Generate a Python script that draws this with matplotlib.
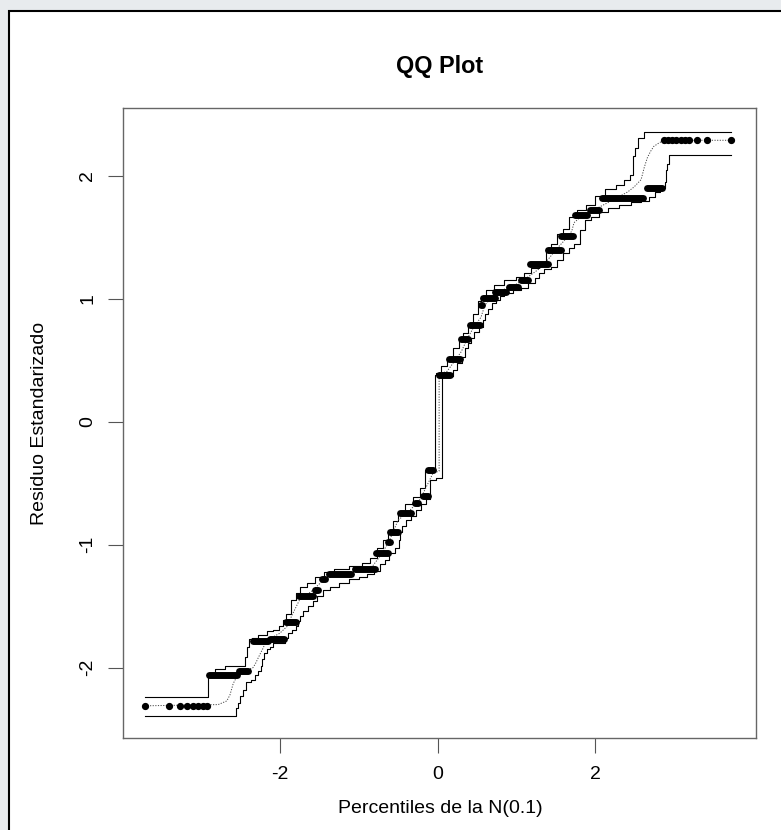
import matplotlib
matplotlib.use("Agg")
import matplotlib.pyplot as plt
from matplotlib.patches import Rectangle

plt.rcParams['font.family'] = ['Liberation Sans', 'DejaVu Sans']
plt.rcParams['axes.unicode_minus'] = False

# isolated points in the two tails
tail_lo_x = [-3.71, -3.40, -3.26, -3.17, -3.10, -3.04, -2.97, -2.92]
tail_lo_y = -2.31
tail_hi_x = [2.87, 2.92, 2.97, 3.02, 3.08, 3.13, 3.19, 3.29, 3.42, 3.72]
tail_hi_y = 2.29

# runs of tied residuals: level, first and last theoretical quantile
run_y = [-2.06, -2.03, -1.78, -1.77, -1.63, -1.42, -1.37, -1.28, -1.24, -1.20,
         -1.07, -0.98, -0.90, -0.74, -0.66, -0.60, -0.39, 0.38, 0.51, 0.675,
         0.79, 0.95, 1.01, 1.06, 1.10, 1.15, 1.28, 1.40, 1.51, 1.68, 1.72,
         1.82, 1.905]
run_x0 = [-2.89, -2.51, -2.34, -2.12, -1.92, -1.76, -1.55, -1.46, -1.37, -1.04,
          -0.78, -0.63, -0.60, -0.47, -0.29, -0.19, -0.12, 0.02, 0.15, 0.30,
          0.41, 0.55, 0.58, 0.73, 0.91, 1.06, 1.17, 1.40, 1.57, 1.74, 1.93,
          2.08, 2.65]
run_x1 = [-2.54, -2.40, -2.15, -1.95, -1.79, -1.58, -1.51, -1.43, -1.10, -0.79,
          -0.63, -0.60, -0.50, -0.33, -0.25, -0.12, -0.06, 0.16, 0.28, 0.39,
          0.54, 0.56, 0.73, 0.87, 1.02, 1.15, 1.40, 1.56, 1.72, 1.89, 2.04,
          2.61, 2.84]

# simulated envelope (upper, lower) and its median
upper_x = [-3.71, -2.93, -2.88, -2.76, -2.63, -2.46, -2.43, -2.40, -2.37, -2.33,
           -2.21, -2.12, -2.04, -1.97, -1.95, -1.89, -1.82, -1.78, -1.70, -1.61,
           -1.49, -1.40, -1.23, -1.02, -0.89, -0.81, -0.72, -0.66, -0.60, -0.53,
           -0.47, -0.36, -0.26, -0.18, -0.15, -0.03, -0.03, -0.01, 0.10, 0.14,
           0.25, 0.29, 0.36, 0.40, 0.50, 0.52, 0.57, 0.67, 0.76, 0.93, 1.05,
           1.14, 1.22, 1.35, 1.39, 1.48, 1.54, 1.63, 1.71, 1.82, 1.94, 2.05,
           2.20, 2.32, 2.41, 2.47, 2.49, 2.51, 2.58, 2.66, 3.72]
upper_y = [-2.24, -2.24, -2.06, -2.01, -1.99, -1.99, -1.91, -1.83, -1.77, -1.76,
           -1.73, -1.70, -1.69, -1.66, -1.61, -1.56, -1.45, -1.39, -1.34, -1.31,
           -1.26, -1.22, -1.20, -1.17, -1.15, -1.11, -1.03, -0.96, -0.89, -0.81,
           -0.74, -0.67, -0.61, -0.54, -0.39, -0.39, 0.38, 0.40, 0.45, 0.52,
           0.60, 0.67, 0.72, 0.79, 0.88, 0.98, 1.02, 1.07, 1.11, 1.15, 1.18,
           1.21, 1.25, 1.29, 1.41, 1.45, 1.53, 1.57, 1.67, 1.72, 1.76, 1.84,
           1.89, 1.93, 1.97, 2.01, 2.16, 2.23, 2.31, 2.36, 2.36]

lower_x = [-3.71, -2.57, -2.54, -2.52, -2.48, -2.46, -2.40, -2.33, -2.29, -2.25,
           -2.23, -2.21, -2.18, -2.14, -2.10, -2.06, -1.95, -1.91, -1.87, -1.82,
           -1.78, -1.76, -1.72, -1.68, -1.61, -1.55, -1.51, -1.40, -1.32, -1.19,
           -1.06, -0.94, -0.85, -0.75, -0.70, -0.64, -0.58, -0.51, -0.47, -0.47,
           -0.43, -0.38, -0.30, -0.24, -0.17, -0.11, -0.09, -0.09, 0.06, 0.06,
           0.19, 0.21, 0.29, 0.33, 0.36, 0.40, 0.44, 0.48, 0.57, 0.59, 0.61,
           0.67, 0.71, 0.78, 0.80, 0.89, 1.01, 1.10, 1.20, 1.27, 1.31, 1.39,
           1.48, 1.56, 1.63, 1.69, 1.77, 1.84, 1.90, 1.98, 2.11, 2.22, 2.37,
           2.54, 2.62, 2.73, 2.77, 2.87, 2.90, 2.90, 2.92, 2.94, 3.72]
lower_y = [-2.39, -2.39, -2.33, -2.29, -2.23, -2.18, -2.12, -2.10, -2.06, -2.03,
           -1.99, -1.93, -1.88, -1.85, -1.83, -1.80, -1.80, -1.76, -1.72, -1.69,
           -1.66, -1.62, -1.58, -1.54, -1.50, -1.46, -1.42, -1.37, -1.34, -1.31,
           -1.28, -1.26, -1.24, -1.21, -1.16, -1.12, -1.07, -1.03, -0.96, -0.90,
           -0.85, -0.80, -0.77, -0.72, -0.67, -0.63, -0.58, -0.47, -0.46, 0.37,
           0.37, 0.42, 0.48, 0.53, 0.60, 0.64, 0.68, 0.73, 0.77, 0.83, 0.88,
           0.92, 0.97, 0.99, 1.02, 1.05, 1.07, 1.09, 1.13, 1.17, 1.21, 1.24,
           1.26, 1.32, 1.37, 1.41, 1.45, 1.56, 1.64, 1.67, 1.71, 1.74, 1.76,
           1.79, 1.80, 1.83, 1.87, 1.90, 1.95, 2.05, 2.10, 2.17, 2.17]

mid_x = [-3.71, -2.78, -2.67, -2.63, -2.59, -2.55, -2.51, -2.42, -2.34, -2.31,
         -2.25, -2.21, -2.17, -2.00, -1.90, -1.85, -1.75, -1.60, -1.45, -1.30,
         -1.00, -0.82, -0.70, -0.60, -0.50, -0.35, -0.22, -0.12, -0.06, 0.02,
         0.02, 0.12, 0.20, 0.30, 0.38, 0.45, 0.55, 0.60, 0.70, 0.85, 1.00,
         1.15, 1.30, 1.40, 1.50, 1.60, 1.70, 1.73, 1.82, 1.94, 2.09, 2.24,
         2.41, 2.49, 2.58, 2.60, 2.62, 2.66, 2.70, 2.74, 2.81, 2.87, 3.72]
mid_y = [-2.31, -2.30, -2.27, -2.22, -2.13, -2.08, -2.03, -2.02, -2.00, -1.97,
         -1.89, -1.84, -1.78, -1.72, -1.66, -1.58, -1.45, -1.38, -1.29, -1.25,
         -1.21, -1.17, -1.07, -0.95, -0.80, -0.72, -0.63, -0.50, -0.42, -0.40,
         0.39, 0.41, 0.48, 0.57, 0.68, 0.76, 0.85, 0.95, 1.02, 1.08, 1.12,
         1.18, 1.25, 1.32, 1.40, 1.47, 1.55, 1.62, 1.67, 1.71, 1.76, 1.81,
         1.87, 1.91, 1.97, 2.02, 2.07, 2.15, 2.20, 2.24, 2.27, 2.29, 2.29]

fig = plt.figure(figsize=(7.81, 8.30), dpi=100, facecolor='#e8ebee')
# white page with a black border, as in the screenshot
fig.patches.append(Rectangle((9 / 781, -0.02), 1.1, 1 - 11 / 830 + 0.02,
                             transform=fig.transFigure, facecolor='white',
                             edgecolor='black', linewidth=1.5, zorder=-10))

ax = fig.add_axes([0.1571, 0.1111, 0.8103, 0.7584])
ax.set_zorder(5)
ax.set_facecolor('white')

# envelopes drawn as small stairs, like the jagged R lines
ax.plot(upper_x, upper_y, color='black', lw=0.8, drawstyle='steps-mid')
ax.plot(lower_x, lower_y, color='black', lw=0.8, drawstyle='steps-mid')
ax.plot(mid_x, mid_y, color='#444444', lw=0.7, linestyle=(0, (1.2, 1.5)))

for y, x0, x1 in zip(run_y, run_x0, run_x1):
    ax.plot([x0, x1], [y, y], color='black', lw=5, solid_capstyle='round')
ax.plot(tail_lo_x, [tail_lo_y] * len(tail_lo_x), 'o', color='black', ms=4.2)
ax.plot(tail_hi_x, [tail_hi_y] * len(tail_hi_x), 'o', color='black', ms=4.2)

ax.set_xlim(-3.99, 4.03)
ax.set_ylim(-2.57, 2.55)
ax.set_xticks([-2, 0, 2])
ax.set_yticks([-2, -1, 0, 1, 2])
ax.tick_params(length=11, width=0.8, color='#555555', labelsize=14)
ax.tick_params(axis='x', pad=9)
ax.tick_params(axis='y', pad=8)
for lab in ax.get_yticklabels():
    lab.set_rotation(90)
    lab.set_va('center')
for sp in ax.spines.values():
    sp.set_color('#666666')
    sp.set_linewidth(1)

fig.text(0.5634, 0.9195, 'QQ Plot', ha='center', va='center',
         fontsize=16.8, fontweight='bold')
fig.text(0.5634, 0.0265, 'Percentiles de la N(0.1)', ha='center', va='center',
         fontsize=14)
fig.text(0.0512, 0.4904, 'Residuo Estandarizado', ha='center', va='center',
         rotation=90, fontsize=14)

fig.savefig('out.png', dpi=100, facecolor=fig.get_facecolor())
